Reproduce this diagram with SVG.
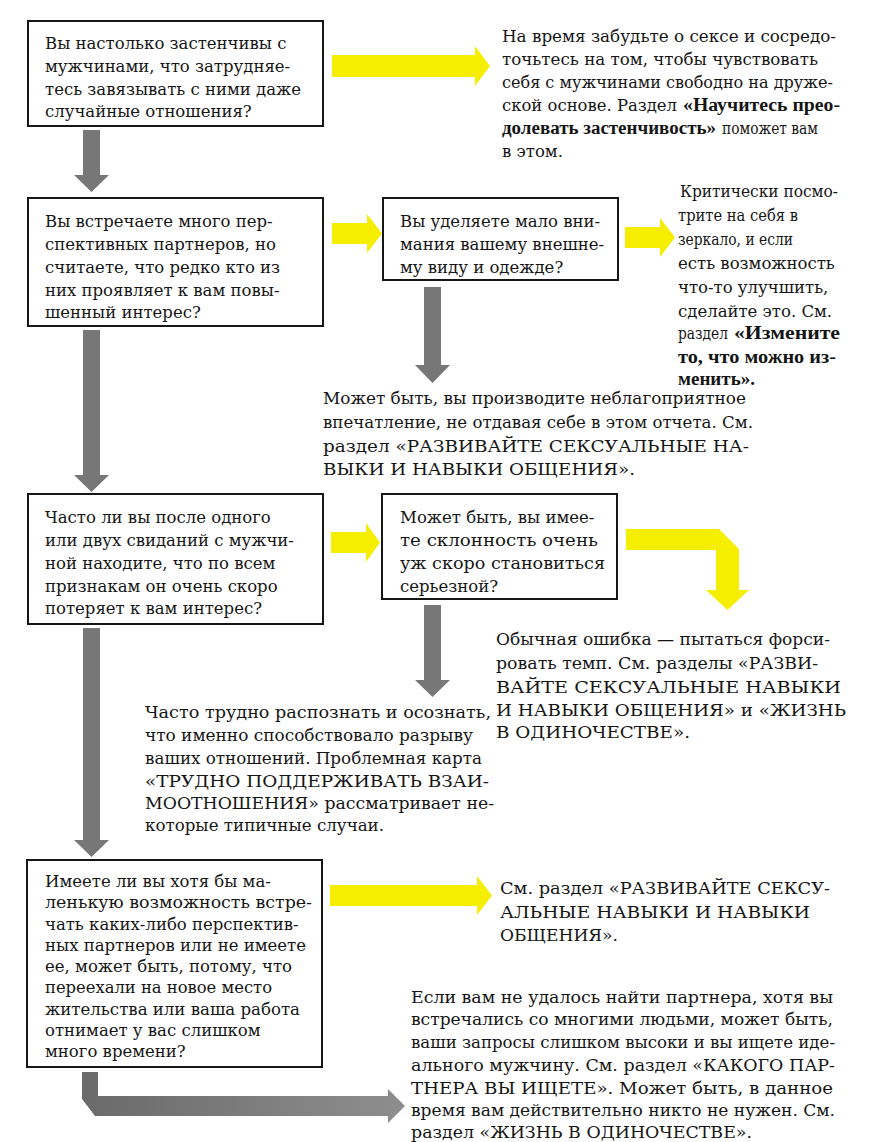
<svg xmlns="http://www.w3.org/2000/svg" width="873" height="1142" viewBox="0 0 873 1142">
<style>
text{font-family:"DejaVu Serif","Liberation Serif",serif;font-size:16.5px;fill:#151515}
.b{font-family:"Liberation Serif","DejaVu Serif",serif;font-weight:bold;font-size:18px}
.box{fill:#fff;stroke:#161616;stroke-width:2}
.y{fill:#f5ee00}
.g{fill:#777}
</style>
<defs>
<linearGradient id="gl" x1="0" y1="0" x2="1" y2="0">
<stop offset="0" stop-color="#6a6a6a"/><stop offset="1" stop-color="#8e8e8e"/>
</linearGradient>
</defs>
<g id="connectors">
<polygon class="y" points="332,55 475,55 475,46 490,66 475,86 475,77 332,77"/>
<polygon class="g" points="83,130 100,130 100,175 109,175 91.5,192 74,175 83,175"/>
<polygon class="y" points="332,223 367,223 367,214 382,233.5 367,253 367,244 332,244"/>
<polygon class="y" points="625,227 660,227 660,218 675,237.5 660,257 660,248 625,248"/>
<polygon class="g" points="424,287 441,287 441,365 450,365 432.5,383 415,365 424,365"/>
<polygon class="g" points="83,330 100,330 100,475 109,475 91.5,492 74,475 83,475"/>
<polygon class="y" points="331,532 366,532 366,523 380,542.5 366,562 366,553 331,553"/>
<polygon class="y" points="626,529 719,529 739,549 739,590 749,590 727.5,610 706,590 716,590 716,550 626,550"/>
<polygon class="g" points="424,605 441,605 441,680 450,680 432.5,697 415,680 424,680"/>
<polygon class="g" points="83,628 100,628 100,840 109,840 91.5,857 74,840 83,840"/>
<polygon class="y" points="330,885 477,885 477,876 492,895.5 477,915 477,906 330,906"/>
<polygon fill="url(#gl)" points="82,1072 98,1072 98,1096 388,1096 388,1089 405,1106 388,1123 388,1116 95,1116 82,1099"/>
</g>
<g id="n1">
<rect class="box" x="28" y="21" width="295" height="105"/>
<text x="45" y="49">Вы настолько застенчивы с</text>
<text x="45" y="72">мужчинами, что затрудняе-</text>
<text x="45" y="95">тесь завязывать с ними даже</text>
<text x="45" y="117">случайные отношения?</text>
</g>
<g id="t1">
<text x="502" y="42" textLength="334" lengthAdjust="spacingAndGlyphs">На время забудьте о сексе и сосредо-</text>
<text x="502" y="65" textLength="316" lengthAdjust="spacingAndGlyphs">точьтесь на том, чтобы чувствовать</text>
<text x="502" y="88" textLength="331" lengthAdjust="spacingAndGlyphs">себя с мужчинами свободно на друже-</text>
<text x="502" y="111" textLength="175" lengthAdjust="spacingAndGlyphs">ской основе. Раздел</text>
<text x="683" y="111" class="b" textLength="157" lengthAdjust="spacingAndGlyphs">«Научитесь прео-</text>
<text x="502" y="134" class="b" textLength="214" lengthAdjust="spacingAndGlyphs">долевать застенчивость»</text>
<text x="722" y="134" textLength="96" lengthAdjust="spacingAndGlyphs">поможет вам</text>
<text x="502" y="157">в этом.</text>
</g>
<g id="n2">
<rect class="box" x="28" y="198" width="295" height="128"/>
<text x="45" y="227">Вы встречаете много пер-</text>
<text x="45" y="250">спективных партнеров, но</text>
<text x="45" y="273">считаете, что редко кто из</text>
<text x="45" y="296">них проявляет к вам повы-</text>
<text x="45" y="318">шенный интерес?</text>
</g>
<g id="n3">
<rect class="box" x="383" y="198" width="235" height="82"/>
<text x="400" y="227">Вы уделяете мало вни-</text>
<text x="400" y="250">мания вашему внешне-</text>
<text x="400" y="273">му виду и одежде?</text>
</g>
<g id="t3">
<text x="680" y="197" textLength="158" lengthAdjust="spacingAndGlyphs">Критически посмо-</text>
<text x="678" y="221" textLength="120" lengthAdjust="spacingAndGlyphs">трите на себя в</text>
<text x="678" y="245" textLength="115" lengthAdjust="spacingAndGlyphs">зеркало, и если</text>
<text x="678" y="269">есть возможность</text>
<text x="678" y="293">что-то улучшить,</text>
<text x="678" y="317">сделайте это. См.</text>
<text x="678" y="339" textLength="50" lengthAdjust="spacingAndGlyphs">раздел</text>
<text x="734" y="339" class="b" textLength="106" lengthAdjust="spacingAndGlyphs">«Измените</text>
<text x="678" y="363" class="b" textLength="158" lengthAdjust="spacingAndGlyphs">то, что можно из-</text>
<text x="678" y="385" class="b" textLength="77" lengthAdjust="spacingAndGlyphs">менить».</text>
</g>
<g id="t2">
<text x="323" y="404" textLength="423" lengthAdjust="spacingAndGlyphs">Может быть, вы производите неблагоприятное</text>
<text x="323" y="428" textLength="430" lengthAdjust="spacingAndGlyphs">впечатление, не отдавая себе в этом отчета. См.</text>
<text x="323" y="452" textLength="426" lengthAdjust="spacingAndGlyphs">раздел «РАЗВИВАЙТЕ СЕКСУАЛЬНЫЕ НА-</text>
<text x="323" y="475" textLength="312" lengthAdjust="spacingAndGlyphs">ВЫКИ И НАВЫКИ ОБЩЕНИЯ».</text>
</g>
<g id="n4">
<rect class="box" x="28" y="494" width="295" height="130"/>
<text x="45" y="523">Часто ли вы после одного</text>
<text x="45" y="546">или двух свиданий с мужчи-</text>
<text x="45" y="569">ной находите, что по всем</text>
<text x="45" y="592">признакам он очень скоро</text>
<text x="45" y="614">потеряет к вам интерес?</text>
</g>
<g id="n5">
<rect class="box" x="382" y="494" width="235" height="105"/>
<text x="400" y="523">Может быть, вы имее-</text>
<text x="400" y="546" textLength="198" lengthAdjust="spacingAndGlyphs">те склонность очень</text>
<text x="400" y="569" textLength="205" lengthAdjust="spacingAndGlyphs">уж скоро становиться</text>
<text x="400" y="592">серьезной?</text>
</g>
<g id="t5">
<text x="496" y="645" textLength="334" lengthAdjust="spacingAndGlyphs">Обычная ошибка — пытаться форси-</text>
<text x="496" y="669" textLength="322" lengthAdjust="spacingAndGlyphs">ровать темп. См. разделы «РАЗВИ-</text>
<text x="496" y="693" textLength="345" lengthAdjust="spacingAndGlyphs">ВАЙТЕ СЕКСУАЛЬНЫЕ НАВЫКИ</text>
<text x="496" y="716" textLength="350" lengthAdjust="spacingAndGlyphs">И НАВЫКИ ОБЩЕНИЯ» и «ЖИЗНЬ</text>
<text x="496" y="738" textLength="194" lengthAdjust="spacingAndGlyphs">В ОДИНОЧЕСТВЕ».</text>
</g>
<g id="t4">
<text x="145" y="718" textLength="346" lengthAdjust="spacingAndGlyphs">Часто трудно распознать и осознать,</text>
<text x="145" y="741" textLength="328" lengthAdjust="spacingAndGlyphs">что именно способствовало разрыву</text>
<text x="145" y="764" textLength="337" lengthAdjust="spacingAndGlyphs">ваших отношений. Проблемная карта</text>
<text x="145" y="787" textLength="344" lengthAdjust="spacingAndGlyphs">«ТРУДНО ПОДДЕРЖИВАТЬ ВЗАИ-</text>
<text x="145" y="809" textLength="349" lengthAdjust="spacingAndGlyphs">МООТНОШЕНИЯ» рассматривает не-</text>
<text x="145" y="831" textLength="239" lengthAdjust="spacingAndGlyphs">которые типичные случаи.</text>
</g>
<g id="n6">
<rect class="box" x="27" y="860" width="295" height="207"/>
<text x="45" y="887">Имеете ли вы хотя бы ма-</text>
<text x="45" y="908.25" textLength="267" lengthAdjust="spacingAndGlyphs">ленькую возможность встре-</text>
<text x="45" y="929.5">чать каких-либо перспектив-</text>
<text x="45" y="950.75">ных партнеров или не имеете</text>
<text x="45" y="972" textLength="247" lengthAdjust="spacingAndGlyphs">ее, может быть, потому, что</text>
<text x="45" y="993.25" textLength="227" lengthAdjust="spacingAndGlyphs">переехали на новое место</text>
<text x="45" y="1014.5" textLength="255" lengthAdjust="spacingAndGlyphs">жительства или ваша работа</text>
<text x="45" y="1035.75">отнимает у вас слишком</text>
<text x="45" y="1057">много времени?</text>
</g>
<g id="t6">
<text x="500" y="894" textLength="330" lengthAdjust="spacingAndGlyphs">См. раздел «РАЗВИВАЙТЕ СЕКСУ-</text>
<text x="500" y="918" textLength="310" lengthAdjust="spacingAndGlyphs">АЛЬНЫЕ НАВЫКИ И НАВЫКИ</text>
<text x="500" y="941" textLength="118" lengthAdjust="spacingAndGlyphs">ОБЩЕНИЯ».</text>
</g>
<g id="t7">
<text x="411" y="1003" textLength="422" lengthAdjust="spacingAndGlyphs">Если вам не удалось найти партнера, хотя вы</text>
<text x="411" y="1025" textLength="422" lengthAdjust="spacingAndGlyphs">встречались со многими людьми, может быть,</text>
<text x="411" y="1048" textLength="424" lengthAdjust="spacingAndGlyphs">ваши запросы слишком высоки и вы ищете иде-</text>
<text x="411" y="1071" textLength="424" lengthAdjust="spacingAndGlyphs">ального мужчину. См. раздел «КАКОГО ПАР-</text>
<text x="411" y="1094" textLength="422" lengthAdjust="spacingAndGlyphs">ТНЕРА ВЫ ИЩЕТЕ». Может быть, в данное</text>
<text x="411" y="1116" textLength="424" lengthAdjust="spacingAndGlyphs">время вам действительно никто не нужен. См.</text>
<text x="411" y="1138" textLength="341" lengthAdjust="spacingAndGlyphs">раздел «ЖИЗНЬ В ОДИНОЧЕСТВЕ».</text>
</g>
</svg>
